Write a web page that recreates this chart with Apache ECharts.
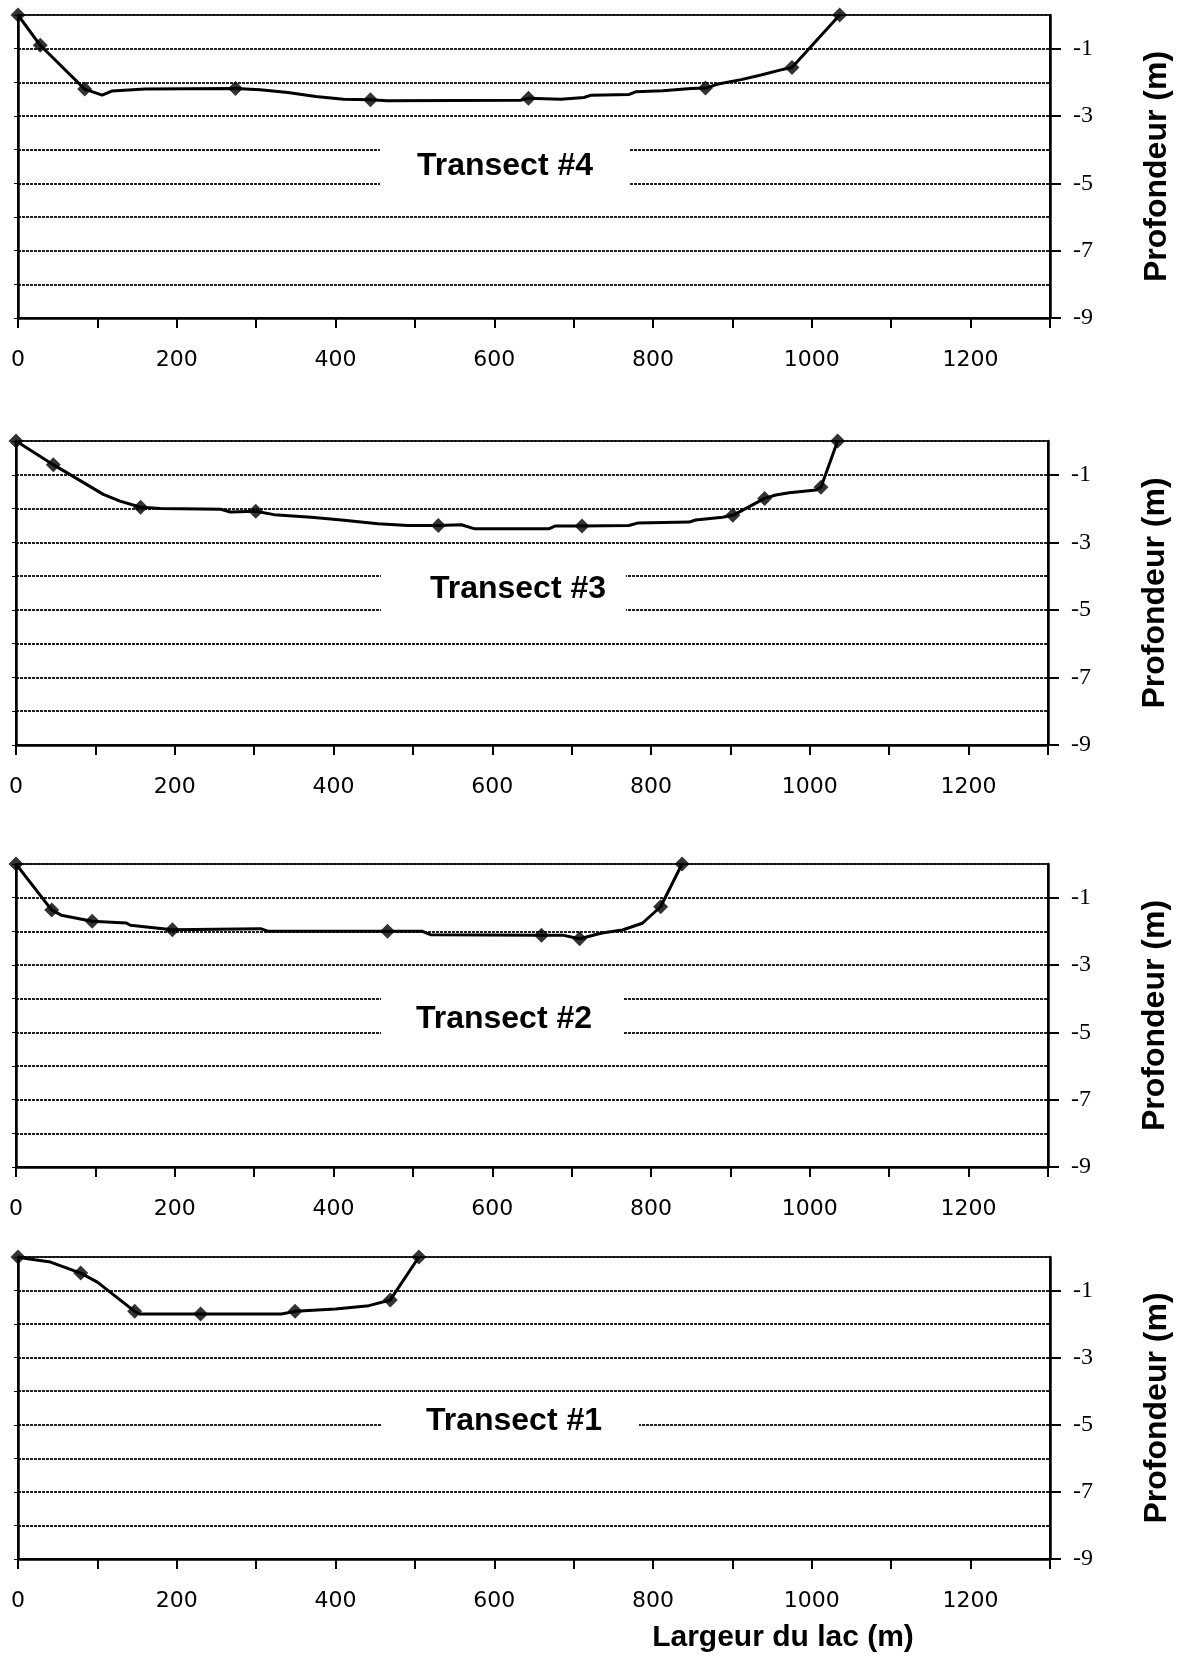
<!DOCTYPE html>
<html><head><meta charset="utf-8">
<script src="https://cdn.jsdelivr.net/npm/echarts@6/dist/echarts.min.js"></script>
<style>html,body{margin:0;padding:0;background:#fff}#c{width:1185px;height:1659px}</style>
</head><body><div id="c"></div>
<script>
// ---- data ----
const xTickLabels = [0, 200, 400, 600, 800, 1000, 1200];
const yTickLabels = [-1, -3, -5, -7, -9];
const transectNames = ['Transect #4', 'Transect #3', 'Transect #2', 'Transect #1'];
const xAxisTitle = 'Largeur du lac (m)';
const yAxisTitle = 'Profondeur (m)';

// profile traces [largeur, profondeur]
const t4Profile = [[0,0],[28,-0.9],[84,-2.2],[106,-2.38],[118,-2.26],[160,-2.2],[274,-2.18],[305,-2.22],[340,-2.3],[375,-2.42],[410,-2.5],[444,-2.52],[465,-2.55],[633,-2.53],[643,-2.47],[684,-2.5],[713,-2.45],[722,-2.38],[770,-2.36],[778,-2.28],[812,-2.25],[848,-2.18],[866,-2.17],[882,-2.05],[911,-1.92],[936,-1.78],[961,-1.63],[975,-1.56],[1035,0]];
const t4Points = [[0,0],[28,-0.9],[84,-2.2],[274,-2.18],[444,-2.52],[643,-2.47],[866,-2.17],[975,-1.56],[1035,0]];

const t3Profile = [[0,0],[47,-0.7],[110,-1.58],[131,-1.78],[157,-1.96],[182,-2.0],[258,-2.02],[270,-2.1],[302,-2.08],[325,-2.18],[372,-2.26],[410,-2.34],[456,-2.45],[494,-2.5],[532,-2.5],[561,-2.48],[578,-2.6],[671,-2.6],[679,-2.52],[713,-2.52],[772,-2.5],[783,-2.43],[848,-2.4],[856,-2.34],[890,-2.26],[903,-2.2],[919,-2.0],[943,-1.7],[957,-1.6],[974,-1.53],[1008,-1.45],[1014,-1.37],[1035,0]];
const t3Points = [[0,0],[47,-0.7],[157,-1.96],[302,-2.08],[532,-2.5],[713,-2.52],[903,-2.2],[943,-1.7],[1014,-1.37],[1035,0]];

const t2Profile = [[0,0],[45,-1.37],[57,-1.52],[96,-1.7],[139,-1.75],[144,-1.82],[197,-1.95],[308,-1.92],[318,-2.0],[468,-2.0],[512,-2.0],[522,-2.1],[662,-2.12],[690,-2.12],[710,-2.22],[738,-2.05],[764,-1.96],[789,-1.76],[812,-1.27],[839,0]];
const t2Points = [[0,0],[45,-1.37],[96,-1.7],[197,-1.95],[468,-2.0],[662,-2.12],[710,-2.22],[812,-1.27],[839,0]];

const t1Profile = [[0,0],[12,-0.05],[41,-0.15],[79,-0.48],[100,-0.75],[147,-1.62],[153,-1.7],[230,-1.7],[332,-1.7],[349,-1.62],[400,-1.55],[442,-1.45],[469,-1.28],[505,0]];
const t1Points = [[0,0],[79,-0.48],[147,-1.62],[230,-1.7],[349,-1.62],[469,-1.28],[505,0]];

const profiles = [t4Profile, t3Profile, t2Profile, t1Profile];
const points = [t4Points, t3Points, t2Points, t1Points];

// ---- layout ----
const grids = [
  {left: 18, top: 15, width: 1032, height: 303},
  {left: 16, top: 441, width: 1032, height: 304},
  {left: 16, top: 864, width: 1032, height: 303},
  {left: 18, top: 1257, width: 1032, height: 302}
];
const labelPos = [
  {cx: 505, cy: 166, x0: 380, x1: 630},
  {cx: 518, cy: 589, x0: 381, x1: 626},
  {cx: 504, cy: 1019, x0: 381, x1: 624},
  {cx: 514, cy: 1421, x0: 381, x1: 639}
];

const chart = echarts.init(document.getElementById('c'), null, {renderer: 'canvas'});

const grid = [], xAxis = [], yAxis = [], series = [], graphic = [];
grids.forEach((g, i) => {
  grid.push(Object.assign({show: true, borderColor: '#000', borderWidth: 2, backgroundColor: 'transparent'}, g));
  xAxis.push({
    type: 'value', gridIndex: i, min: 0, max: 1300, interval: 100,
    axisLine: {show: true, onZero: false, lineStyle: {color: '#000', width: 2.5}},
    axisTick: {show: true, length: 10, lineStyle: {color: '#000', width: 2}},
    axisLabel: {
      show: true, margin: 31, color: '#000', fontFamily: 'DejaVu Sans', fontSize: 22,
      formatter: v => (xTickLabels.indexOf(v) >= 0 ? String(v) : '')
    },
    splitLine: {show: false}
  });
  // right axis: labels + ticks at odd depths
  yAxis.push({
    type: 'value', gridIndex: i, position: 'right', min: -9, max: 0, interval: 1,
    name: yAxisTitle, nameLocation: 'middle', nameGap: 91,
    nameTextStyle: {fontFamily: 'Liberation Sans', fontWeight: 'bold', fontSize: 32, color: '#000'},
    axisLine: {show: true, onZero: false, lineStyle: {color: '#000', width: 2.5}},
    axisTick: {show: true, length: 11, customValues: yTickLabels, lineStyle: {color: '#000', width: 2}},
    axisLabel: {
      show: true, margin: 23, color: '#000', fontFamily: 'Liberation Serif', fontSize: 24,
      customValues: yTickLabels,
      formatter: v => (yTickLabels.indexOf(v) >= 0 ? String(v) : '')
    },
    splitLine: {show: false}
  });
  // left axis: small ticks + horizontal grid lines at every metre
  yAxis.push({
    type: 'value', gridIndex: i, position: 'left', min: -9, max: 0, interval: 1,
    axisLine: {show: true, onZero: false, lineStyle: {color: '#000', width: 2.5}},
    axisTick: {show: true, length: 4, lineStyle: {color: '#000', width: 1}},
    axisLabel: {show: false},
    splitLine: {show: true, lineStyle: {color: '#222', width: 2, type: [3, 1]}}
  });
  series.push({
    type: 'line', xAxisIndex: i, yAxisIndex: i * 2, data: profiles[i],
    showSymbol: false, symbol: 'none', clip: false, z: 3,
    lineStyle: {color: '#000', width: 3}
  });
  series.push({
    type: 'scatter', xAxisIndex: i, yAxisIndex: i * 2, data: points[i],
    symbol: 'diamond', symbolSize: 15, clip: false, z: 4,
    itemStyle: {color: '#000'}
  });
  const lp = labelPos[i];
  graphic.push({
    type: 'rect', left: lp.x0, top: lp.cy - 24, z: 10,
    shape: {width: lp.x1 - lp.x0, height: 48},
    style: {fill: '#fff'}
  });
  graphic.push({
    type: 'text', x: lp.cx, y: lp.cy, z: 11,
    style: {text: transectNames[i], fill: '#000', font: 'bold 32px "Liberation Sans"', textAlign: 'center', textVerticalAlign: 'middle'}
  });
});
graphic.push({
  type: 'text', x: 783, y: 1638, z: 11,
  style: {text: xAxisTitle, fill: '#000', font: 'bold 30px "Liberation Sans"', textAlign: 'center', textVerticalAlign: 'middle'}
});

chart.setOption({
  animation: false,
  backgroundColor: '#fff',
  grid, xAxis, yAxis, series, graphic
});
</script>
</body></html>
